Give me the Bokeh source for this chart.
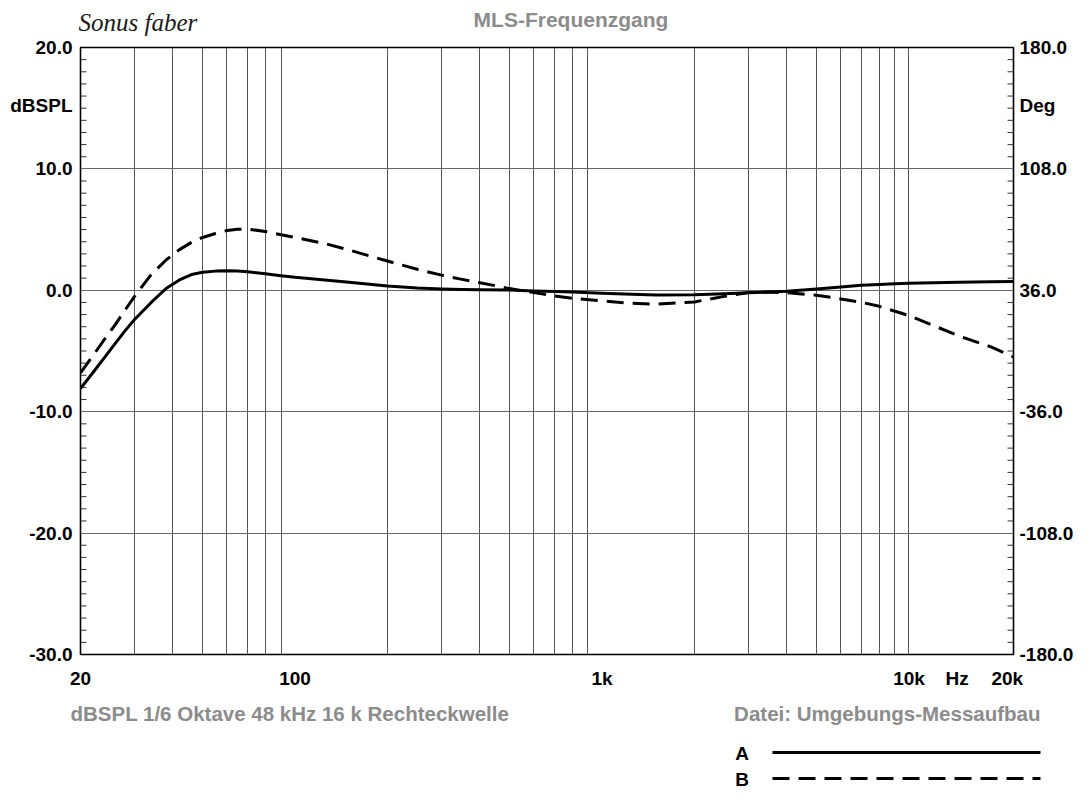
from bokeh.plotting import figure
from bokeh.models import FixedTicker, LinearAxis, Range1d
from bokeh.layouts import column
from bokeh.core.properties import value
from bokeh.embed import file_html
from bokeh.resources import INLINE

# ---------------- data ----------------
freq_hz = [20, 22, 24, 26, 28, 30, 34, 38, 42, 46, 50, 55, 60, 65, 70, 80, 90, 100,
           125, 150, 200, 250, 300, 350, 400, 500, 600, 700, 800, 1000, 1250, 1500,
           2000, 2500, 3000, 3500, 4000, 5000, 6000, 7000, 8000, 9000, 10000, 12000,
           14500, 18500, 21900]

curve_a_db = [-8.1, -6.75, -5.5, -4.35, -3.3, -2.4, -1.0, 0.15, 0.85, 1.3, 1.48, 1.58,
              1.62, 1.58, 1.53, 1.37, 1.2, 1.07, 0.85, 0.66, 0.35, 0.19, 0.11, 0.07,
              0.05, 0.02, -0.05, -0.1, -0.15, -0.25, -0.33, -0.38, -0.36, -0.28, -0.2,
              -0.15, -0.08, 0.11, 0.28, 0.42, 0.48, 0.53, 0.58, 0.63, 0.66, 0.7, 0.72]

curve_b_db = [-6.8, -5.35, -4.0, -2.8, -1.6, -0.5, 1.3, 2.5, 3.35, 3.95, 4.35, 4.68,
              4.92, 5.02, 5.05, 4.85, 4.57, 4.36, 3.85, 3.32, 2.41, 1.73, 1.25, 0.9,
              0.63, 0.14, -0.19, -0.47, -0.66, -0.88, -1.07, -1.15, -0.96, -0.5, -0.19,
              -0.15, -0.2, -0.41, -0.71, -0.99, -1.32, -1.73, -2.08, -2.9, -3.75, -4.66,
              -5.49]

y_ticks = [-30, -20, -10, 0, 10, 15.2, 20]
y_tick_labels = ["-30.0", "-20.0", "-10.0", "0.0", "10.0", "dBSPL", "20.0"]

deg_ticks = [-180, -108, -36, 36, 108, 145.4, 180]
deg_tick_labels = ["-180.0", "-108.0", "-36.0", "36.0", "108.0", "Deg", "180.0"]

x_ticks = [20, 100, 1000, 10000, 14340, 20900]
x_tick_labels = ["20", "100", "1k", "10k", "Hz", "20k"]

grid_freqs = [m * d for d in (10, 100, 1000) for m in range(2, 10)] + [10000]
grid_db = [-30, -20, -10, 0, 10, 20]
minor_db = [v for v in range(-30, 21) if v % 10 != 0]

series_names = ["A", "B"]
series_dashes = ["solid", "17 9"]

title_text = "MLS-Frequenzgang"
brand_text = "Sonus faber"
footer_left = "dBSPL 1/6 Oktave 48 kHz 16 k Rechteckwelle"
footer_right = "Datei: Umgebungs-Messaufbau"

FONT = "Liberation Sans"
GRAY = "#8c8c8c"
W = 1076
X0, X1 = 20, 21900
PX_PER_DEC = 936 / 3.0394  # frame width over the decades shown
TXT_DY = 7  # text glyph baseline correction (px)


def blank(height, top, bottom):
    f = figure(width=W, height=height, x_range=Range1d(0, W),
               y_range=Range1d(bottom, top), output_backend="svg",
               toolbar_location=None, x_axis_location=None, y_axis_location=None,
               min_border_left=0, min_border_right=0, min_border_top=0,
               min_border_bottom=0, frame_align=False)
    f.title.visible = False
    f.outline_line_color = None
    f.grid.visible = False
    f.background_fill_color = "white"
    f.border_fill_color = "white"
    return f


# ---------------- header ----------------
head = blank(36, 0, 36)
head.text(x=[78], y=[28.5 - TXT_DY], text=[brand_text],
          text_font=value("Liberation Serif"), text_font_style="italic",
          text_font_size="25px", text_color="#1a1a1a",
          text_align="left", text_baseline="alphabetic")
head.text(x=[570.5], y=[26 - TXT_DY], text=[title_text], text_font=value(FONT),
          text_font_style="bold", text_font_size="21px", text_color=GRAY,
          text_align="center", text_baseline="alphabetic")

# ---------------- main chart ----------------
p = figure(width=W, height=664, x_axis_type="log",
           x_range=Range1d(X0, X1), y_range=Range1d(-30, 20),
           output_backend="svg", toolbar_location=None,
           min_border_left=80, min_border_right=60,
           min_border_top=11, min_border_bottom=46, frame_align=False)
p.title.visible = False
p.background_fill_color = "white"
p.border_fill_color = "white"
p.outline_line_color = "black"
p.outline_line_width = 1.6
p.extra_y_ranges = {"deg": Range1d(-180, 180)}

p.xgrid.ticker = FixedTicker(ticks=grid_freqs)
p.xgrid.grid_line_color = "#555555"
p.xgrid.grid_line_width = 1
p.ygrid.ticker = FixedTicker(ticks=grid_db)
p.ygrid.grid_line_color = "#666666"
p.ygrid.grid_line_width = 1


def style_axis(ax, standoff):
    ax.axis_line_color = None
    ax.major_tick_in = 0
    ax.major_tick_out = 0
    ax.minor_tick_in = 0
    ax.minor_tick_out = 0
    ax.major_label_standoff = standoff
    ax.major_label_text_font = FONT
    ax.major_label_text_font_style = "bold"
    ax.major_label_text_font_size = "19px"
    ax.major_label_text_color = "black"


xa = p.xaxis[0]
xa.ticker = FixedTicker(ticks=x_ticks, minor_ticks=[])
xa.major_label_overrides = {t: l for t, l in zip(x_ticks, x_tick_labels)}
style_axis(xa, 13)

ya = p.yaxis[0]
ya.ticker = FixedTicker(ticks=y_ticks, minor_ticks=[])
ya.major_label_overrides = {t: l for t, l in zip(y_ticks, y_tick_labels)}
style_axis(ya, 8)

ra = LinearAxis(y_range_name="deg")
ra.ticker = FixedTicker(ticks=deg_ticks, minor_ticks=[])
ra.major_label_overrides = {t: l for t, l in zip(deg_ticks, deg_tick_labels)}
style_axis(ra, 6)
p.add_layout(ra, "right")

# inward minor ticks (1 dB) on both vertical edges of the frame
tick_fac = 10 ** (6 / PX_PER_DEC)
p.segment(x0=[X0] * len(minor_db), y0=minor_db, x1=[X0 * tick_fac] * len(minor_db),
          y1=minor_db, line_color="#333333", line_width=1)
p.segment(x0=[X1] * len(minor_db), y0=minor_db, x1=[X1 / tick_fac] * len(minor_db),
          y1=minor_db, line_color="#333333", line_width=1)

# curves
p.line(freq_hz, curve_a_db, line_width=3, line_color="black", line_join="round",
       line_dash=series_dashes[0])
p.line(freq_hz, curve_b_db, line_width=3, line_color="black", line_join="round",
       line_dash=series_dashes[1])

# ---------------- footer ----------------
foot = blank(89, 700, 789)
foot.text(x=[70], y=[720 - TXT_DY], text=[footer_left], text_font=value(FONT),
          text_font_style="bold", text_font_size="20.5px", text_color=GRAY,
          text_align="left", text_baseline="alphabetic")
foot.text(x=[1040], y=[720 - TXT_DY], text=[footer_right], text_font=value(FONT),
          text_font_style="bold", text_font_size="20.5px", text_color=GRAY,
          text_align="right", text_baseline="alphabetic")

legend_text_y = [760, 786]
legend_line_y = [752, 778]
for name, dash, ty, ly in zip(series_names, series_dashes, legend_text_y, legend_line_y):
    foot.text(x=[741.5], y=[ty - TXT_DY], text=[name], text_font=value(FONT),
              text_font_style="bold", text_font_size="19px", text_color="black",
              text_align="center", text_baseline="alphabetic")
    foot.line(x=[772, 1040], y=[ly, ly], line_width=3, line_color="black",
              line_dash=dash)

layout = column(head, p, foot, spacing=0)
open("out.html", "w").write(file_html(layout, INLINE))
